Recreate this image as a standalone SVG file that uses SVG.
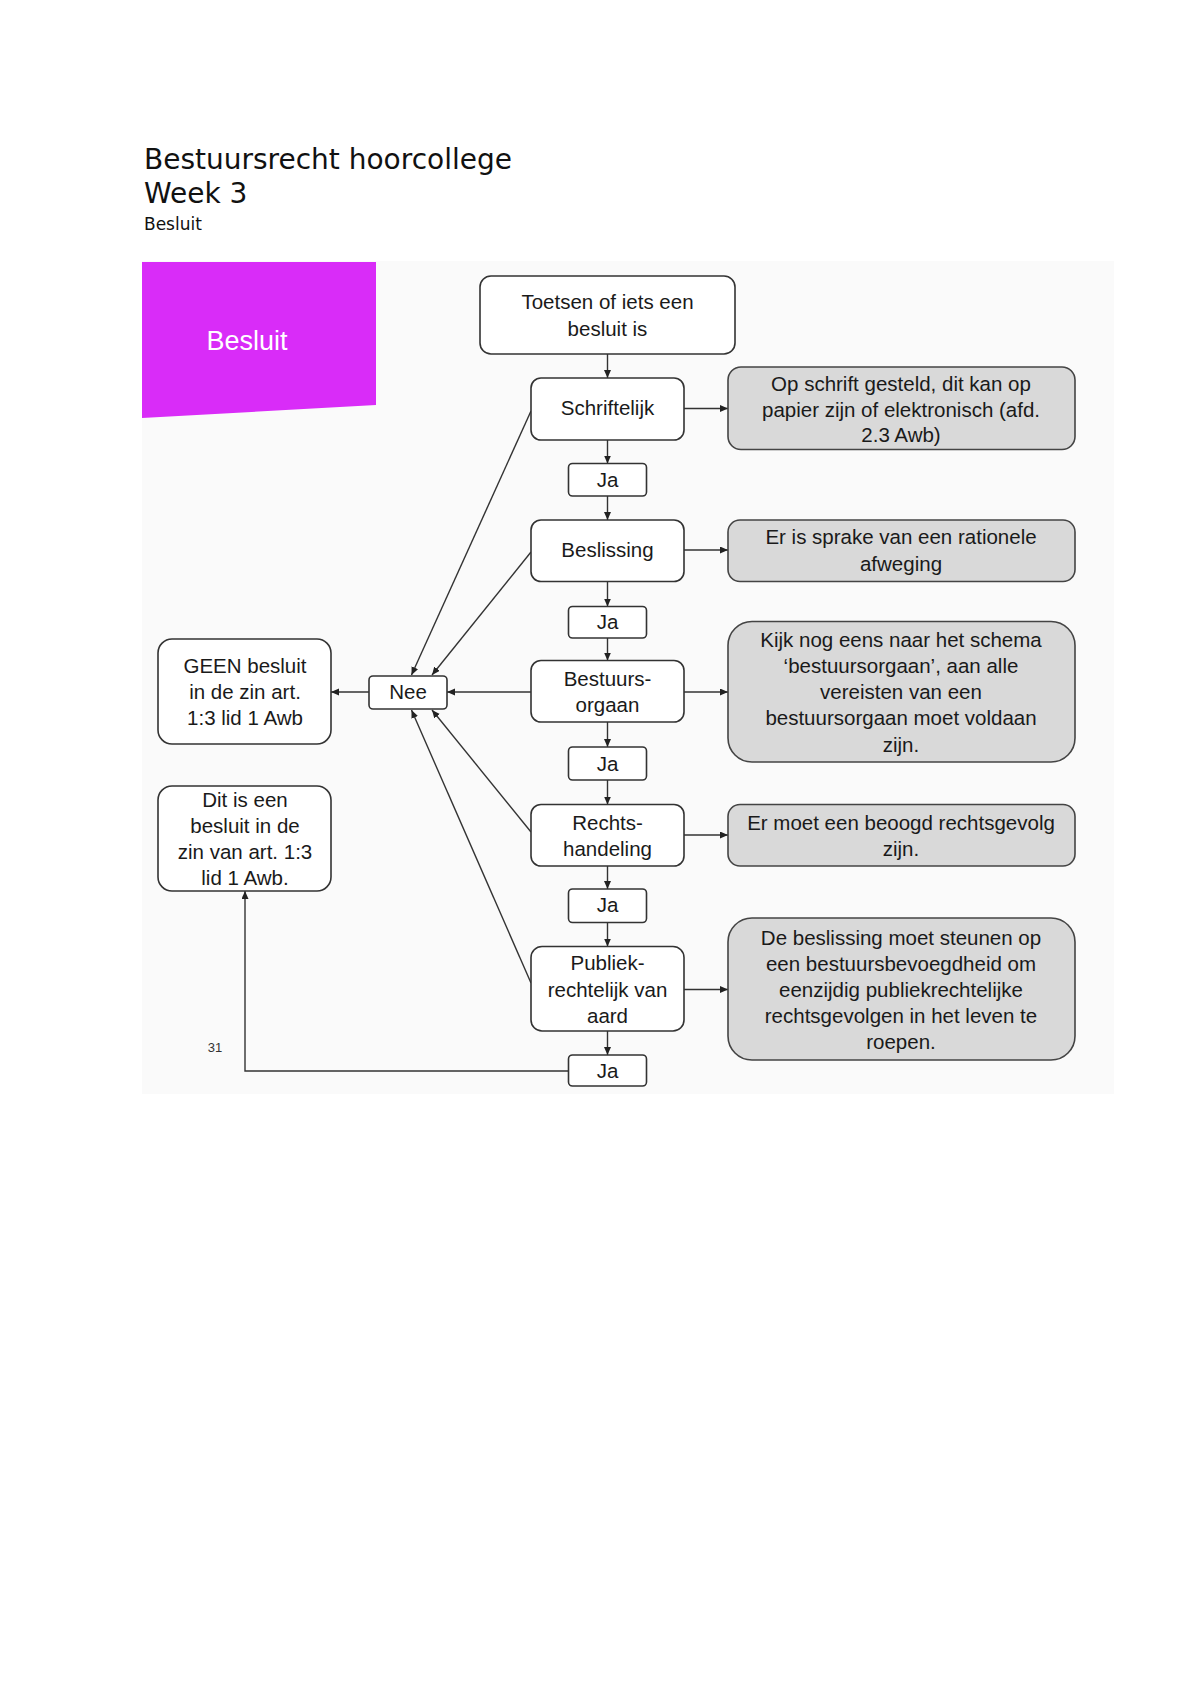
<svg xmlns="http://www.w3.org/2000/svg" width="1200" height="1698" viewBox="0 0 1200 1698">
<defs>
<marker id="ah" markerUnits="userSpaceOnUse" markerWidth="9" markerHeight="8" refX="8" refY="3.5" orient="auto">
<path d="M0,0 L8,3.5 L0,7 z" fill="#222"/>
</marker>
<style>
.t{font-family:"Liberation Sans",Arial,sans-serif;font-size:20.5px;fill:#1a1a1a;text-anchor:middle}
.box{fill:#fff;stroke:#333;stroke-width:1.6}
.grey{fill:#d9d9d9;stroke:#444;stroke-width:1.6}
.c{fill:none;stroke:#333;stroke-width:1.4}
.a{marker-end:url(#ah)}
</style>
</defs>
<rect width="1200" height="1698" fill="#fff"/>
<g id="header">
<text x="144" y="169" style="font-family:'DejaVu Sans',sans-serif;font-size:28px;fill:#111">Bestuursrecht hoorcollege</text>
<text x="144" y="202.5" style="font-family:'DejaVu Sans',sans-serif;font-size:28px;fill:#111">Week 3</text>
<text x="144" y="229.5" style="font-family:'DejaVu Sans',sans-serif;font-size:17px;fill:#111">Besluit</text>
</g>
<rect x="142" y="261" width="972" height="833" fill="#fafafa"/>
<g id="title-tab">
<polygon points="142,262 376,262 376,405 142,418" fill="#d92cf8"/>
<text x="247" y="350" style="font-family:'Liberation Sans',Arial,sans-serif;font-size:27px;fill:#fff;text-anchor:middle">Besluit</text>
</g>
<g id="connectors">
<line class="c a" x1="607.5" y1="354" x2="607.5" y2="378"/>
<line class="c a" x1="607.5" y1="440" x2="607.5" y2="463.5"/>
<line class="c a" x1="607.5" y1="496" x2="607.5" y2="520"/>
<line class="c a" x1="607.5" y1="581.5" x2="607.5" y2="606.5"/>
<line class="c a" x1="607.5" y1="638" x2="607.5" y2="660.5"/>
<line class="c a" x1="607.5" y1="722" x2="607.5" y2="747"/>
<line class="c a" x1="607.5" y1="780" x2="607.5" y2="804.5"/>
<line class="c a" x1="607.5" y1="866" x2="607.5" y2="889"/>
<line class="c a" x1="607.5" y1="922.5" x2="607.5" y2="946.5"/>
<line class="c a" x1="607.5" y1="1031" x2="607.5" y2="1055"/>
<line class="c a" x1="684" y1="408.5" x2="728" y2="408.5"/>
<line class="c a" x1="684" y1="550" x2="728" y2="550"/>
<line class="c a" x1="684" y1="692" x2="728" y2="692"/>
<line class="c a" x1="684" y1="835" x2="728" y2="835"/>
<line class="c a" x1="684" y1="989.5" x2="728" y2="989.5"/>
<line class="c a" x1="531" y1="692" x2="447" y2="692"/>
<line class="c a" x1="369" y1="692" x2="331" y2="692"/>
<line class="c a" x1="531" y1="411" x2="411.5" y2="675"/>
<line class="c a" x1="531" y1="552" x2="432" y2="675"/>
<line class="c a" x1="531" y1="832" x2="432" y2="710"/>
<line class="c a" x1="531" y1="983" x2="411.5" y2="710"/>
<polyline class="c a" points="568.5,1071 245,1071 245,891"/>
</g>
<g id="n-toetsen">
<rect class="box" x="480" y="276" width="255" height="78" rx="11"/>
<text class="t" x="607.5" y="309">Toetsen of iets een</text>
<text class="t" x="607.5" y="336">besluit is</text>
</g>
<g id="n-schriftelijk">
<rect class="box" x="531" y="378" width="153" height="62" rx="10"/>
<text class="t" x="607.5" y="415">Schriftelijk</text>
</g>
<g id="n-ja1">
<rect class="box" x="568.5" y="463.5" width="78" height="32.5" rx="4"/>
<text class="t" x="607.5" y="487">Ja</text>
</g>
<g id="n-beslissing">
<rect class="box" x="531" y="520" width="153" height="61.5" rx="10"/>
<text class="t" x="607.5" y="557">Beslissing</text>
</g>
<g id="n-ja2">
<rect class="box" x="568.5" y="606.5" width="78" height="31.5" rx="4"/>
<text class="t" x="607.5" y="628.5">Ja</text>
</g>
<g id="n-bestuursorgaan">
<rect class="box" x="531" y="660.5" width="153" height="61.5" rx="10"/>
<text class="t" x="607.5" y="686">Bestuurs-</text>
<text class="t" x="607.5" y="712">orgaan</text>
</g>
<g id="n-ja3">
<rect class="box" x="568.5" y="747" width="78" height="33" rx="4"/>
<text class="t" x="607.5" y="770.5">Ja</text>
</g>
<g id="n-rechtshandeling">
<rect class="box" x="531" y="804.5" width="153" height="61.5" rx="10"/>
<text class="t" x="607.5" y="830">Rechts-</text>
<text class="t" x="607.5" y="856">handeling</text>
</g>
<g id="n-ja4">
<rect class="box" x="568.5" y="889" width="78" height="33.5" rx="4"/>
<text class="t" x="607.5" y="912">Ja</text>
</g>
<g id="n-publiek">
<rect class="box" x="531" y="946.5" width="153" height="84.5" rx="11"/>
<text class="t" x="607.5" y="970">Publiek-</text>
<text class="t" x="607.5" y="997">rechtelijk van</text>
<text class="t" x="607.5" y="1023">aard</text>
</g>
<g id="n-ja5">
<rect class="box" x="568.5" y="1055" width="78" height="31" rx="4"/>
<text class="t" x="607.5" y="1078">Ja</text>
</g>
<g id="n-g1">
<rect class="grey" x="728" y="367" width="347" height="82.5" rx="13"/>
<text class="t" x="901" y="390.5">Op schrift gesteld, dit kan op</text>
<text class="t" x="901" y="416.5">papier zijn of elektronisch (afd.</text>
<text class="t" x="901" y="442">2.3 Awb)</text>
</g>
<g id="n-g2">
<rect class="grey" x="728" y="520" width="347" height="61.5" rx="12"/>
<text class="t" x="901" y="544">Er is sprake van een rationele</text>
<text class="t" x="901" y="571">afweging</text>
</g>
<g id="n-g3">
<rect class="grey" x="728" y="621.5" width="347" height="140.5" rx="24"/>
<text class="t" x="901" y="647">Kijk nog eens naar het schema</text>
<text class="t" x="901" y="673">‘bestuursorgaan’, aan alle</text>
<text class="t" x="901" y="699">vereisten van een</text>
<text class="t" x="901" y="725">bestuursorgaan moet voldaan</text>
<text class="t" x="901" y="752">zijn.</text>
</g>
<g id="n-g4">
<rect class="grey" x="728" y="804.5" width="347" height="61.5" rx="12"/>
<text class="t" x="901" y="830">Er moet een beoogd rechtsgevolg</text>
<text class="t" x="901" y="856">zijn.</text>
</g>
<g id="n-g5">
<rect class="grey" x="728" y="918" width="347" height="142" rx="24"/>
<text class="t" x="901" y="945">De beslissing moet steunen op</text>
<text class="t" x="901" y="971">een bestuursbevoegdheid om</text>
<text class="t" x="901" y="997">eenzijdig publiekrechtelijke</text>
<text class="t" x="901" y="1023">rechtsgevolgen in het leven te</text>
<text class="t" x="901" y="1049">roepen.</text>
</g>
<g id="n-nee">
<rect class="box" x="369" y="676" width="78" height="33" rx="4"/>
<text class="t" x="408" y="699">Nee</text>
</g>
<g id="n-geen">
<rect class="box" x="158" y="639" width="173" height="105" rx="14"/>
<text class="t" x="245" y="673">GEEN besluit</text>
<text class="t" x="245" y="699">in de zin art.</text>
<text class="t" x="245" y="725">1:3 lid 1 Awb</text>
</g>
<g id="n-dit">
<rect class="box" x="158" y="786" width="173" height="105" rx="14"/>
<text class="t" x="245" y="807">Dit is een</text>
<text class="t" x="245" y="833">besluit in de</text>
<text class="t" x="245" y="859">zin van art. 1:3</text>
<text class="t" x="245" y="885">lid 1 Awb.</text>
</g>
<text x="215" y="1052" style="font-family:'Liberation Sans',Arial,sans-serif;font-size:13px;fill:#333;text-anchor:middle">31</text>
</svg>
